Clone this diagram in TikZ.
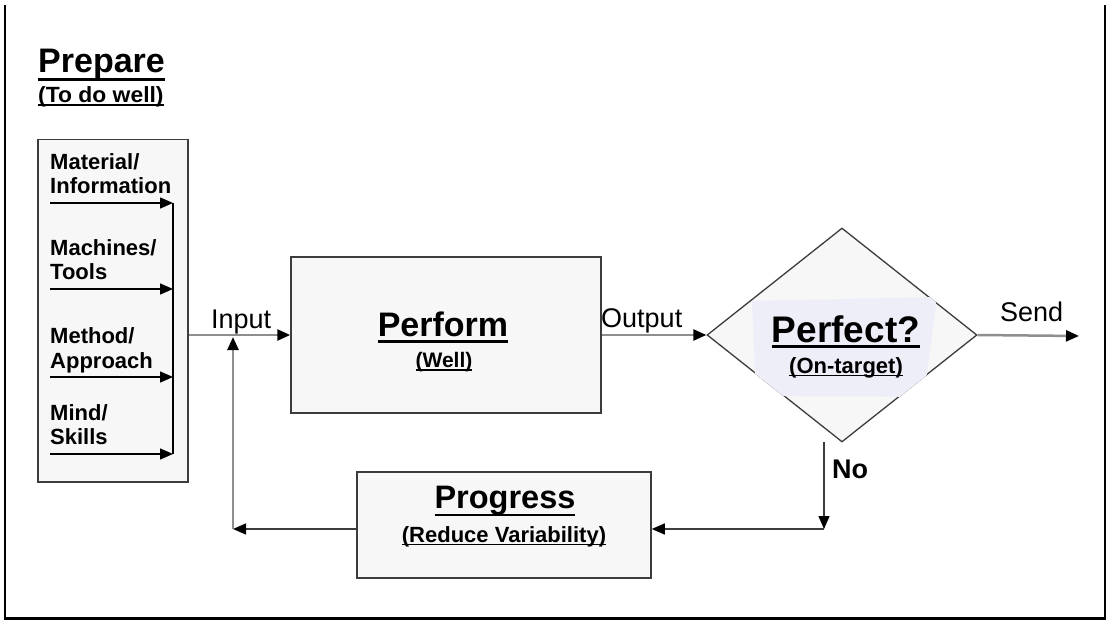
\documentclass[tikz,border=0pt]{standalone}
\usepackage{fontspec}
\usepackage{graphicx}
\setmainfont{Liberation Sans}
\usetikzlibrary{arrows.meta,shapes.geometric}
\definecolor{boxfill}{HTML}{F7F7F7}
\definecolor{lineg}{HTML}{8E8E8E}
\definecolor{edgec}{HTML}{3C3C3C}
\definecolor{patchc}{HTML}{EEEEF9}
\newcommand\ulx[3]{\setbox0\hbox{#3}\rlap{\rule[-#1]{\wd0}{#2}}\box0}
\newcommand\fsz[1]{\fontsize{#1}{#1}\selectfont}
\tikzset{
  boxnode/.style={draw=edgec, line width=1.5pt, fill=boxfill, inner sep=0pt},
  txt/.style={inner sep=0pt},
  item/.style={inner sep=0pt, anchor=base west, font=\fsz{22}\bfseries},
  tip/.style={-{Triangle[length=13pt,width=11pt,color=black]}},
  gline/.style={draw=lineg, line width=2.5pt, tip},
  dline/.style={draw=edgec, line width=1.5pt, tip},
  bline/.style={draw=black, line width=1.5pt},
}
\begin{document}
\begin{tikzpicture}[x=1pt,y=-1pt]
\useasboundingbox (0,0) rectangle (1111,620);
% frame
\draw[line width=2.5pt] (5,5) -- (5,618.5) -- (1105,618.5) -- (1105,5);

% Prepare title
\node[txt, anchor=base west] (prep) at (38,73) {\fsz{34}\bfseries\ulx{8pt}{3pt}{Prepare}};
\node[txt, anchor=base west] (prepsub) at (38,103) {\fsz{22}\bfseries\ulx{3pt}{1.5pt}{\scalebox{1.04}[1]{(To do well)}}};

% Prepare box
\node[boxnode, minimum width=150pt, minimum height=342pt, anchor=north west] (pbox) at (37,139) {};
\node[item] (i1a) at (50,170) {Material/};
\node[item] (i1b) at (50,194) {Information};
\node[item] (i2a) at (50,256) {Machines/};
\node[item] (i2b) at (50,280) {Tools};
\node[item] (i3a) at (50,344) {Method/};
\node[item] (i3b) at (50,368) {Approach};
\node[item] (i4a) at (50,420) {Mind/};
\node[item] (i4b) at (50,444) {Skills};
\coordinate (a1s) at (50,203); \coordinate (a1e) at (173,203);
\coordinate (a2s) at (50,289); \coordinate (a2e) at (173,289);
\coordinate (a3s) at (50,377); \coordinate (a3e) at (173,377);
\coordinate (a4s) at (50,454); \coordinate (a4e) at (173,454);
\draw[bline] (a1e) -- (a4e);
\draw[bline, tip] (a1s) -- (a1e);
\draw[bline, tip] (a2s) -- (a2e);
\draw[bline, tip] (a3s) -- (a3e);
\draw[bline, tip] (a4s) -- (a4e);

% Perform
\node[boxnode, minimum width=310pt, minimum height=156pt] (perf) at (446,335) {};
\node[txt, anchor=base] (perft) at (443,337) {\fsz{34}\bfseries\ulx{6pt}{3pt}{Perform}};
\node[txt, anchor=base] (perfs) at (444,367) {\fsz{21}\bfseries\ulx{3.5pt}{1.5pt}{(Well)}};

% Input
\draw[gline] (pbox.east |- perf.west) -- (perf.west);
\node[txt, anchor=base west] (inlab) at (211,328) {\fsz{27}Input};

% Decision
\node[diamond, draw=edgec, line width=1.3pt, fill=boxfill, inner sep=0pt,
      minimum width=270pt, minimum height=214pt] (dec) at (842,335) {};
\begin{scope}
\clip (dec.west) -- (dec.north) -- (dec.east) -- (dec.south) -- cycle;
\fill[patchc] (752,301) -- (937,297) -- (924,397) -- (756,396) -- cycle;
\end{scope}
\node[txt, anchor=base] (dect) at (846,342) {\fsz{37}\bfseries\ulx{6pt}{3pt}{Perfect?}};
\node[txt, anchor=base] (decs) at (846,373) {\fsz{22}\bfseries\ulx{3pt}{1.5pt}{(On-target)}};

% Output
\draw[gline] (perf.east) -- (dec.west);
\node[txt, anchor=base west] (outlab) at (601,327) {\fsz{27}Output};

% Send
\coordinate (sendend) at (1079,336);
\draw[gline] (dec.east) -- (sendend);
\node[txt, anchor=base west] (sendlab) at (1000,322) {\fsz{27}Send};

% Progress
\node[boxnode, minimum width=294pt, minimum height=106pt] (prog) at (504,525) {};
\node[txt, anchor=base] (progt) at (505,508) {\fsz{32.5}\bfseries\ulx{8pt}{2.5pt}{Progress}};
\node[txt, anchor=base] (progs) at (504,542) {\fsz{22}\bfseries\ulx{3pt}{1.5pt}{(Reduce Variability)}};

% No branch
\coordinate (nostart) at (824,442);
\coordinate (nocorner) at (824,529);
\draw[dline] (nostart) -- (nocorner);
\draw[dline] (nocorner) -- (nocorner -| prog.east);
\node[txt, anchor=base west, font=\fsz{27}\bfseries] (nolab) at (832,478) {No};

% Feedback
\coordinate (fbcorner) at (233,529);
\coordinate (fbtop) at (233,337);
\draw[dline] (prog.west |- fbcorner) -- (fbcorner);
\draw[gline] (fbcorner) -- (fbtop);
\end{tikzpicture}
\end{document}
